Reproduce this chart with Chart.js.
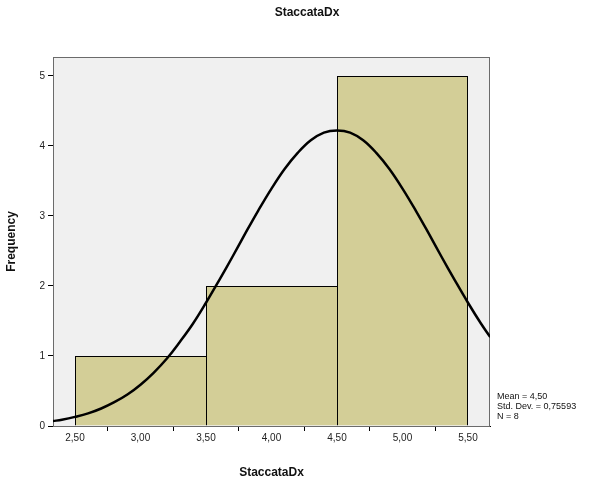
<!DOCTYPE html>
<html>
<head>
<meta charset="utf-8">
<script src="https://cdn.jsdelivr.net/npm/chart.js@4/dist/chart.umd.min.js"></script>
<style>
  html, body { margin: 0; padding: 0; background: #fff; }
  #wrap { width: 614px; height: 487px; }
</style>
</head>
<body>
<div id="wrap"><canvas id="hist"></canvas></div>
<script>
"use strict";

// ─── Data ────────────────────────────────────────────────────────────────
const chartTitle  = "StaccataDx";
const binCenters  = [3.0, 4.0, 5.0];
const frequencies = [1, 2, 5];

// normal curve
const curveX = [2.33, 2.4, 2.5, 2.6, 2.7, 2.8, 2.9, 3.0, 3.1, 3.2, 3.3, 3.4, 3.5,
                3.6, 3.7, 3.8, 3.9, 4.0, 4.1, 4.2, 4.3, 4.4, 4.5, 4.6, 4.7, 4.8,
                4.9, 5.0, 5.1, 5.2, 5.3, 5.4, 5.5, 5.6, 5.67];
const curveY = [0.07, 0.09, 0.13, 0.18, 0.25, 0.34, 0.45, 0.59, 0.76, 0.96, 1.20,
                1.46, 1.76, 2.08, 2.41, 2.75, 3.08, 3.39, 3.67, 3.90, 4.08, 4.19,
                4.22, 4.19, 4.08, 3.90, 3.67, 3.39, 3.08, 2.75, 2.41, 2.08, 1.76,
                1.46, 1.27];

const xTicks = [2.5, 3.0, 3.5, 4.0, 4.5, 5.0, 5.5];
const yTicks = [0, 1, 2, 3, 4, 5];

const statsLines = ["Mean = 4,50", "Std. Dev. = 0,75593", "N = 8"];

// ─── Styles ──────────────────────────────────────────────────────────────
const FONT = "Arial, 'Liberation Sans', sans-serif";
const BAR_FILL = "#d3ce97";
const PLOT_BG = "#f0f0f0";

const plotFrame = {
  id: "plotFrame",
  beforeDatasetsDraw(chart) {
    const { ctx, chartArea: a } = chart;
    ctx.save();
    ctx.fillStyle = PLOT_BG;
    ctx.fillRect(a.left, a.top, a.right - a.left, a.bottom - a.top);
    ctx.strokeStyle = "#6b6b6b";
    ctx.lineWidth = 1;
    ctx.strokeRect(a.left + 0.5, a.top + 0.5, a.right - a.left - 1, a.bottom - a.top);
    ctx.restore();
  },
  afterDraw(chart) {
    const { ctx, width } = chart;
    ctx.save();
    // page title, centred on the whole canvas like the original
    ctx.fillStyle = "#111";
    ctx.font = "bold 12px " + FONT;
    ctx.textAlign = "center";
    ctx.textBaseline = "middle";
    ctx.fillText(chartTitle, width / 2, 13);
    // stats box
    ctx.font = "9px " + FONT;
    ctx.textAlign = "left";
    statsLines.forEach((t, i) => ctx.fillText(t, 497, 397 + i * 10));
    ctx.restore();
  },
};

function fmtComma(v) {
  return v.toFixed(2).replace(".", ",");
}

new Chart(document.getElementById("hist"), {
  type: "bar",
  data: {
    datasets: [
      {
        type: "line",
        data: curveX.map((x, i) => ({ x, y: curveY[i] })),
        borderColor: "#000",
        borderWidth: 2.5,
        pointRadius: 0,
        tension: 0.4,
        fill: false,
        order: 0,
      },
      {
        type: "bar",
        data: binCenters.map((x, i) => ({ x, y: frequencies[i] })),
        backgroundColor: BAR_FILL,
        borderColor: "#000",
        // shared edges drawn once, like the original
        borderWidth: (c) => ({
          top: 1, left: 1, bottom: 0,
          right: c.dataIndex === binCenters.length - 1 ? 1 : 0,
        }),
        borderSkipped: false,
        // bar slot = tick spacing (0.5); bins are 1.0 wide
        barPercentage: 1,
        categoryPercentage: 2,
        grouped: false,
        order: 1,
      },
    ],
  },
  options: {
    animation: false,
    responsive: true,
    maintainAspectRatio: false,
    layout: { padding: { left: 4, right: 124, top: 57, bottom: 7 } },
    plugins: {
      legend: { display: false },
      tooltip: { enabled: false },
      title: { display: false },
    },
    scales: {
      x: {
        type: "linear",
        min: 2.332,
        max: 5.668,
        offset: false,
        afterBuildTicks: (s) => { s.ticks = xTicks.map((v) => ({ value: v })); },
        afterFit: (s) => { s.height = 54; },
        grid: { drawOnChartArea: false, drawTicks: true, tickLength: 5, color: "#000" },
        border: { display: true, color: "#000", width: 1 },
        ticks: {
          color: "#222",
          font: { family: FONT, size: 10 },
          padding: 1,
          maxRotation: 0,
          autoSkip: false,
          callback: (v) => fmtComma(v),
        },
        title: {
          display: true,
          text: "StaccataDx",
          color: "#111",
          font: { family: FONT, size: 12, weight: "bold" },
          padding: { top: 6, bottom: 0 },
        },
      },
      y: {
        min: 0,
        max: 5.27,
        afterBuildTicks: (s) => { s.ticks = yTicks.map((v) => ({ value: v })); },
        afterFit: (s) => { s.width = 49; },
        grid: { drawOnChartArea: false, drawTicks: true, tickLength: 5, color: "#000" },
        border: { display: true, color: "#000", width: 1 },
        ticks: {
          color: "#222",
          font: { family: FONT, size: 10 },
          padding: 3,
        },
        title: {
          display: true,
          text: "Frequency",
          color: "#111",
          font: { family: FONT, size: 12, weight: "bold" },
          padding: { top: 0, bottom: 4 },
        },
      },
    },
  },
  plugins: [plotFrame],
});
</script>
</body>
</html>
